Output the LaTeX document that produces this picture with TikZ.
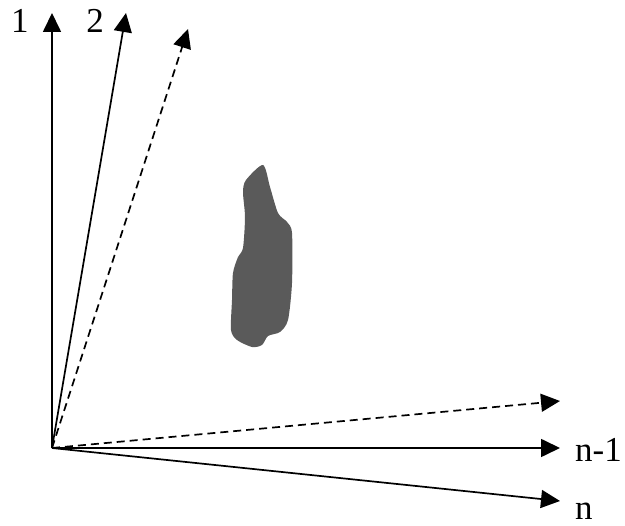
\documentclass[tikz,border=0pt]{standalone}
\usepackage{fontspec}
\setmainfont{Liberation Serif}
\usetikzlibrary{arrows.meta}
\definecolor{blobgray}{RGB}{90,90,90}
\begin{document}
\begin{tikzpicture}[x=1pt,y=-1pt,
    axis/.style={line width=1.7pt, -{Triangle[length=19pt,width=18pt]}},
    daxis/.style={axis, dash pattern=on 8pt off 5pt},
    lbl/.style={font=\fontsize{35}{40}\selectfont, inner sep=0pt}]
    \useasboundingbox (0,0) rectangle (625,526);
    \coordinate (o) at (52,448);
    \coordinate (t1) at (52,13);
    \coordinate (t2) at (126,13);
    \coordinate (td) at (188,29);
    \coordinate (rd) at (560,401);
    \coordinate (rn1) at (560,448);
    \coordinate (rn) at (560,501);
    \draw[axis] (o) -- (t1);
    \draw[axis] (o) -- (t2);
    \draw[daxis] (o) -- (td);
    \draw[daxis] (o) -- (rd);
    \draw[axis] (o) -- (rn1);
    \draw[axis] (o) -- (rn);
    \node[lbl, anchor=base] (l1) at (20,33) {1};
    \node[lbl, anchor=base] (l2) at (95,33) {2};
    \node[lbl, anchor=base west] (ln1) at (575,462) {n-1};
    \node[lbl, anchor=base west] (ln) at (575,520) {n};
    % the cloud
    \fill[blobgray] plot[smooth cycle, tension=0.45] coordinates {
      (263,165) (270,187) (278,213) (287,222) (292,233) (292,283) (288,320)
      (280,332) (268,336) (262,345) (252,347) (237,340) (231,330) (232,300)
      (233,273) (238,257) (243,248) (245,217) (243,192) (246,180)};
\end{tikzpicture}
\end{document}
